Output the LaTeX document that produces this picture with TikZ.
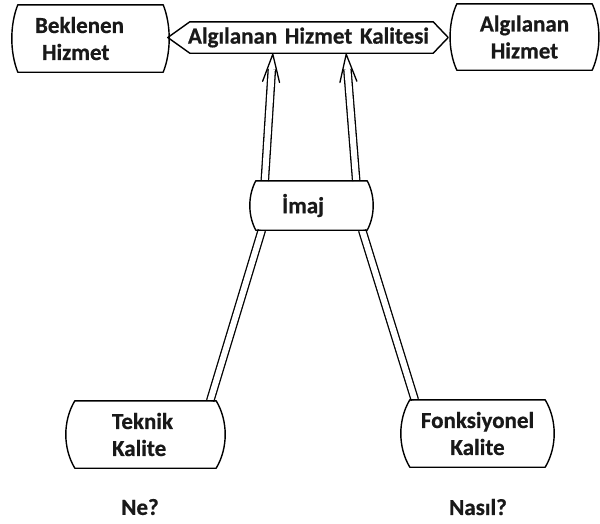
\documentclass[tikz,border=0pt]{standalone}
\usepackage{fontspec}
\setmainfont{Carlito}[BoldFeatures={FakeBold=0.6}]
\usetikzlibrary{calc,arrows.meta}
\tikzset{
  outl/.style={draw=black, line width=1.4pt, line join=round},
  headline/.style={draw=black, line width=1.3pt, line join=round, line cap=round},
  boxnode/.style={inner sep=0pt, font=\fontsize{23}{27}\selectfont\bfseries, text=black!90},
  txt/.style={inner sep=0pt, font=\fontsize{23}{27}\selectfont\bfseries, text=black!90},
  dblline/.style={draw=black, line width=1.3pt, double=white, double distance=6pt},
}
\newcommand\bulgeout[2]{%
  \draw[outl] (#1.north west) -- (#1.north east)
    .. controls ($(#1.north east)!0.3!(#1.south east)+(#2,0)$) and ($(#1.south east)!0.3!(#1.north east)+(#2,0)$) .. (#1.south east)
    -- (#1.south west)
    .. controls ($(#1.south west)!0.3!(#1.north west)+(-#2,0)$) and ($(#1.north west)!0.3!(#1.south west)+(-#2,0)$) .. (#1.north west) -- cycle;}
\newcommand\dblarrowline[2]{%
  \draw[dblline, shorten >=15pt] (#1) -- (#2);
  \draw[headline] ($(#2)!29pt!17:(#1)$) -- (#2) -- ($(#2)!29pt!-17:(#1)$);}
\begin{document}
\begin{tikzpicture}[x=1pt,y=-1pt]
\useasboundingbox[fill=white] (0,0) rectangle (600,523);
% nodes
\node[boxnode, minimum width=145pt, minimum height=67pt, text width=145pt, align=left] (bek) at (90.5,38.5)
  {\hspace*{17pt}Beklenen\\\hspace*{24pt}Hizmet};
\node[boxnode, minimum width=135pt, minimum height=66pt, text width=135pt, align=center] (alg) at (524.5,37)
  {Algılanan\\Hizmet};
\node[boxnode, minimum width=243pt, minimum height=31pt, text width=243pt, align=left] (hex) at (311.5,37.5)
  {\hspace*{-2pt}\mbox{Algılanan Hizmet Kalitesi}};
\node[boxnode, minimum width=111pt, minimum height=49pt, text width=111pt, align=left] (imaj) at (311.5,205.5)
  {\hspace*{26pt}İmaj};
\node[boxnode, minimum width=141pt, minimum height=67pt, text width=141pt, align=left] (tek) at (145.5,434.5)
  {\hspace*{37pt}Teknik\\\hspace*{37pt}Kalite};
\node[boxnode, minimum width=135pt, minimum height=67pt, text width=135pt, align=center] (fonk) at (477.5,433.5)
  {Fonksiyonel\\Kalite};
\node[txt] (ne) at (140,507) {Ne?};
\node[txt] (nasil) at (478,507) {Nasıl?};
% connector end points
\coordinate (a1s) at ($(imaj.north west)+(9,0)$);
\coordinate (a1t) at ($(hex.south west)+(83,1)$);
\coordinate (a2s) at ($(imaj.north east)+(-11,0)$);
\coordinate (a2t) at ($(hex.south east)+(-87,1)$);
% connectors
\dblarrowline{a1s}{a1t}
\dblarrowline{a2s}{a2t}
\draw[dblline] ($(imaj.south west)+(6,0)$) -- ($(tek.north east)+(-6,0)$);
\draw[dblline] ($(imaj.south east)+(-5,0)$) -- ($(fonk.north west)+(5,0)$);
% outlines
\bulgeout{bek}{8}
\bulgeout{alg}{9}
\bulgeout{imaj}{8}
\bulgeout{tek}{12}
\bulgeout{fonk}{12}
\draw[outl] (hex.north west) -- (hex.north east) -- ($(hex.east)+(15,0)$) -- (hex.south east)
  -- (hex.south west) -- ($(hex.west)+(-22,0)$) -- cycle;
\end{tikzpicture}
\end{document}
